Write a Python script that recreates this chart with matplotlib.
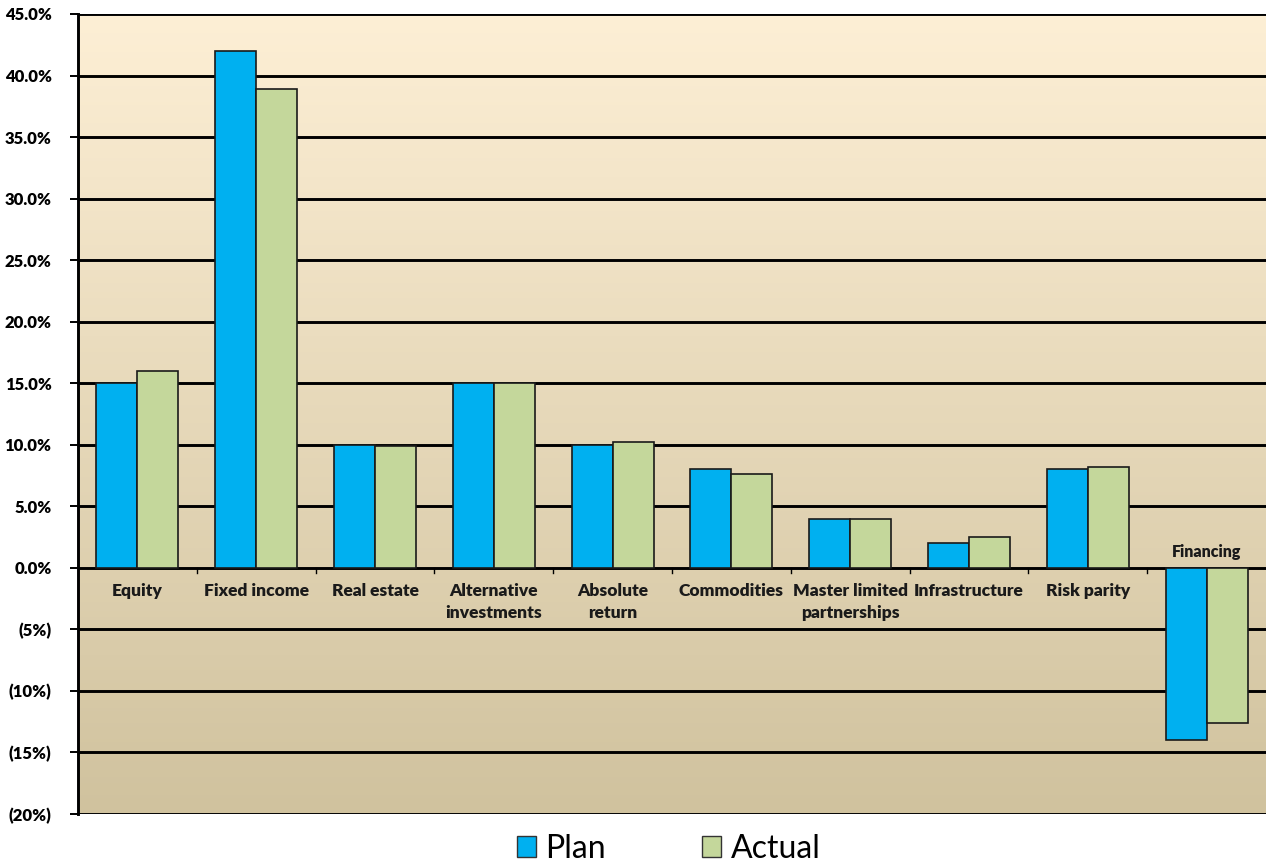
import numpy as np
import matplotlib
matplotlib.use('Agg')
import matplotlib.pyplot as plt
from matplotlib.patches import Patch
from matplotlib.colors import LinearSegmentedColormap

# data (percent)
categories = ['Equity', 'Fixed income', 'Real estate', 'Alternative\ninvestments',
              'Absolute\nreturn', 'Commodities', 'Master limited\npartnerships',
              'Infrastructure', 'Risk parity', 'Financing']
plan = [15.0, 42.0, 10.0, 15.0, 10.0, 8.0, 4.0, 2.0, 8.0, -14.0]
actual = [16.0, 38.9, 9.9, 15.0, 10.2, 7.6, 4.0, 2.5, 8.2, -12.6]
yticks = [45, 40, 35, 30, 25, 20, 15, 10, 5, 0, -5, -10, -15, -20]
ytick_labels = ['45.0%', '40.0%', '35.0%', '30.0%', '25.0%', '20.0%', '15.0%',
                '10.0%', '5.0%', '0.0%', '(5%)', '(10%)', '(15%)', '(20%)']

plan_color = '#00B0F0'
actual_color = '#C4D79B'
font = 'Lato'

fig = plt.figure(figsize=(12.66, 8.67), dpi=100)
ax = fig.add_axes([78 / 1266, 53 / 867, 1188 / 1266, 800 / 867])

# gradient background
bg = LinearSegmentedColormap.from_list('bg', ['#D0C29E', '#FDEFD5'])
grad = np.linspace(0, 1, 256).reshape(-1, 1)
ax.imshow(grad, cmap=bg, aspect='auto', origin='lower',
          extent=[-0.5, len(categories) - 0.5, -20, 45], zorder=0)

x = np.arange(len(categories))
w = 0.345
ax.bar(x - w / 2, plan, w, color=plan_color, edgecolor='#1a1a1a', linewidth=1.2, zorder=3)
ax.bar(x + w / 2, actual, w, color=actual_color, edgecolor='#1a1a1a', linewidth=1.2, zorder=3)

ax.set_xlim(-0.5, len(categories) - 0.5)
ax.set_ylim(-20, 45)

for yv in yticks:
    ax.axhline(yv, color='black', linewidth=2.1, zorder=2)

ax.set_yticks(yticks)
ax.set_yticklabels(ytick_labels, fontsize=12, fontweight='heavy', family=font)
ax.tick_params(axis='y', length=6, width=1.4, pad=13)
ax.set_xticks([])

# category tick marks along the zero line
for b in np.arange(0.5, len(categories) - 0.5, 1.0):
    ax.plot([b, b], [0, -0.45], color='black', linewidth=1.0, zorder=2)

for i, name in enumerate(categories):
    if plan[i] < 0:
        ax.text(i, 0.6, name, ha='center', va='bottom', fontsize=11.5,
                fontweight='heavy', family=font, color='#1a1a1a', zorder=4)
    else:
        ax.text(i, -1.2, name, ha='center', va='top', fontsize=12.5,
                fontweight='heavy', family=font, color='#1a1a1a', linespacing=1.5, zorder=4)

for side in ['top', 'right', 'bottom']:
    ax.spines[side].set_visible(False)
ax.spines['left'].set_linewidth(2.1)

handles = [Patch(facecolor=plan_color, edgecolor='#333333', label='Plan'),
           Patch(facecolor=actual_color, edgecolor='#333333', label='Actual')]
fig.legend(handles=handles, loc='center', bbox_to_anchor=(0.528, 0.021), ncol=2,
           frameon=False, prop={'family': font, 'size': 23}, handlelength=0.6,
           handleheight=0.6, handletextpad=0.3, columnspacing=3.0)

fig.savefig('out.png', dpi=100)
